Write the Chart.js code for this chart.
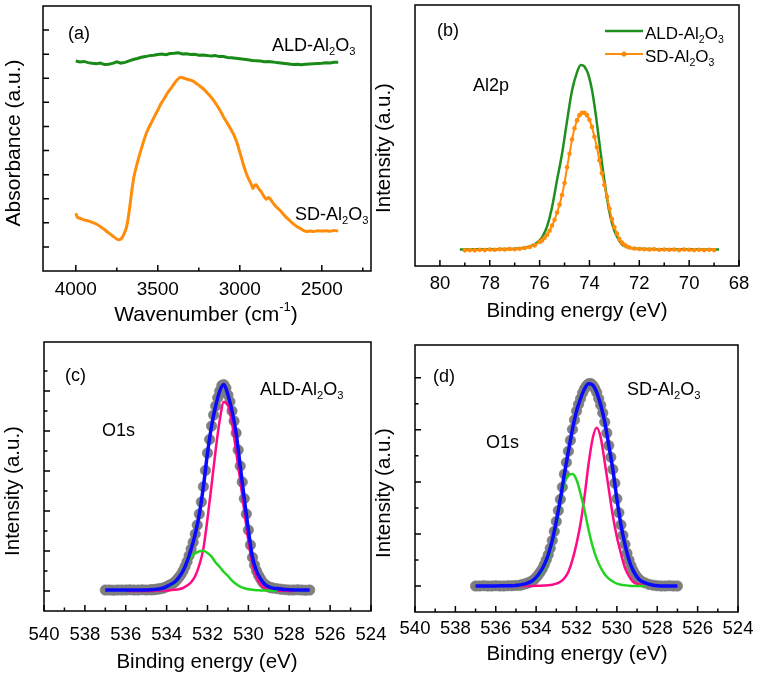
<!DOCTYPE html>
<html>
<head>
<meta charset="utf-8">
<script src="https://cdn.jsdelivr.net/npm/chart.js@4.4.1/dist/chart.umd.min.js"></script>
<style>
  html, body { margin: 0; padding: 0; background: #fff; }
  #fig { position: relative; width: 758px; height: 673px; overflow: hidden; }
  #fig canvas { position: absolute; }
</style>
</head>
<body>
<div id="fig">
  <canvas id="panelA" width="379" height="335" style="left:0;top:0"></canvas>
  <canvas id="panelB" width="388" height="335" style="left:370px;top:0"></canvas>
  <canvas id="panelC" width="390" height="338" style="left:0;top:335px"></canvas>
  <canvas id="panelD" width="388" height="338" style="left:370px;top:335px"></canvas>
</div>
<script>
// (a) FTIR absorbance
const ftirWaveAld = [4000, 3975, 3950, 3925, 3900, 3875, 3850, 3825, 3800, 3775,
  3750, 3725, 3700, 3675, 3650, 3625, 3600, 3575, 3550, 3525,
  3500, 3475, 3450, 3425, 3400, 3375, 3350, 3325, 3300, 3275,
  3250, 3225, 3200, 3175, 3150, 3125, 3100, 3075, 3050, 3025,
  3000, 2975, 2950, 2925, 2900, 2875, 2850, 2825, 2800, 2775,
  2750, 2725, 2700, 2675, 2650, 2625, 2600, 2575, 2550, 2525,
  2500, 2475, 2450, 2425, 2400];
const ftirAld = [8.72, 8.68, 8.70, 8.65, 8.62, 8.60, 8.63, 8.57, 8.58, 8.62,
  8.68, 8.63, 8.66, 8.72, 8.78, 8.82, 8.87, 8.90, 8.94, 8.96,
  8.99, 9.01, 8.98, 9.03, 9.04, 9.06, 9.01, 9.02, 8.99, 9.00,
  8.96, 8.97, 8.95, 8.92, 8.94, 8.90, 8.90, 8.86, 8.85, 8.83,
  8.81, 8.79, 8.77, 8.74, 8.73, 8.72, 8.69, 8.70, 8.68, 8.65,
  8.63, 8.61, 8.59, 8.57, 8.58, 8.56, 8.58, 8.59, 8.60, 8.61,
  8.62, 8.64, 8.63, 8.66, 8.66];
const ftirWaveSd = [4000, 3990, 3975, 3950, 3925, 3900, 3875, 3850, 3825, 3800,
  3775, 3750, 3735, 3720, 3705, 3690, 3675, 3660, 3645, 3630,
  3615, 3600, 3585, 3565, 3540, 3520, 3500, 3480, 3460, 3440,
  3420, 3400, 3380, 3360, 3340, 3320, 3300, 3280, 3260, 3240,
  3220, 3200, 3180, 3160, 3140, 3120, 3100, 3080, 3060, 3040,
  3020, 3005, 2990, 2975, 2960, 2945, 2930, 2920, 2910, 2900,
  2885, 2870, 2855, 2840, 2825, 2815, 2800, 2780, 2755, 2730,
  2700, 2675, 2650, 2625, 2610, 2590, 2570, 2550, 2525, 2500,
  2475, 2450, 2425, 2400];
const ftirSd = [2.40, 2.22, 2.19, 2.12, 2.08, 2.02, 1.95, 1.84, 1.72, 1.58,
  1.45, 1.33, 1.30, 1.36, 1.55, 1.84, 2.45, 3.25, 3.93, 4.35,
  4.74, 5.08, 5.42, 5.80, 6.15, 6.42, 6.68, 6.95, 7.17, 7.40,
  7.58, 7.78, 7.95, 8.04, 8.00, 7.96, 7.92, 7.86, 7.76, 7.66,
  7.55, 7.40, 7.25, 7.08, 6.88, 6.66, 6.40, 6.18, 5.95, 5.70,
  5.38, 5.05, 4.70, 4.35, 4.05, 3.80, 3.60, 3.42, 3.55, 3.58,
  3.42, 3.30, 3.12, 2.98, 3.05, 3.00, 2.85, 2.68, 2.52, 2.32,
  2.12, 1.97, 1.84, 1.74, 1.68, 1.64, 1.66, 1.64, 1.67, 1.66,
  1.67, 1.65, 1.68, 1.66];
const ftirXLabels = [4000, 3500, 3000, 2500];
const ftirXMinor = [3750, 3250, 2750, 2250];
const ftirYTicks = [1, 2, 3, 4, 5, 6, 7, 8, 9, 10];

// (b) Al2p
const al2pEAld = [79.2, 78.5, 78, 77.5, 77, 76.6, 76.4, 76.2, 76.0, 75.9,
  75.7, 75.5, 75.3, 75.1, 74.9, 74.7, 74.5, 74.35, 74.2, 74.05,
  73.9, 73.75, 73.6, 73.45, 73.3, 73.15, 73.0, 72.85, 72.7, 72.5,
  72.3, 72, 71.5, 71, 70, 69, 68.8];
const al2pAld = [0.063, 0.064, 0.064, 0.065, 0.066, 0.070, 0.075, 0.083, 0.098, 0.110,
  0.152, 0.226, 0.330, 0.430, 0.555, 0.672, 0.742, 0.770, 0.764, 0.735,
  0.675, 0.582, 0.470, 0.360, 0.262, 0.185, 0.135, 0.105, 0.083, 0.073,
  0.068, 0.066, 0.065, 0.064, 0.064, 0.063, 0.063];
const al2pESd = [79.0, 78.8, 78.6, 78.4, 78.2, 78.0, 77.8, 77.6, 77.4, 77.2,
  77.0, 76.8, 76.6, 76.4, 76.2, 76.0, 75.9, 75.8, 75.7, 75.6,
  75.5, 75.4, 75.3, 75.2, 75.1, 75.0, 74.9, 74.8, 74.7, 74.6,
  74.5, 74.4, 74.3, 74.2, 74.1, 74.0, 73.9, 73.8, 73.7, 73.6,
  73.5, 73.4, 73.3, 73.2, 73.1, 73.0, 72.9, 72.8, 72.7, 72.6,
  72.5, 72.4, 72.2, 72.0, 71.8, 71.6, 71.4, 71.2, 71.0, 70.8,
  70.6, 70.4, 70.2, 70.0, 69.8, 69.6, 69.4, 69.2, 69.0];
const al2pSd = [0.060, 0.061, 0.060, 0.062, 0.061, 0.063, 0.062, 0.064, 0.063, 0.065,
  0.064, 0.066, 0.069, 0.073, 0.079, 0.092, 0.098, 0.108, 0.120, 0.135,
  0.155, 0.177, 0.205, 0.235, 0.272, 0.318, 0.378, 0.430, 0.485, 0.528,
  0.558, 0.578, 0.587, 0.587, 0.578, 0.560, 0.533, 0.495, 0.455, 0.405,
  0.355, 0.310, 0.265, 0.220, 0.180, 0.148, 0.124, 0.103, 0.090, 0.081,
  0.075, 0.071, 0.067, 0.065, 0.064, 0.063, 0.064, 0.062, 0.063, 0.062,
  0.063, 0.061, 0.063, 0.062, 0.061, 0.062, 0.061, 0.062, 0.061];
const al2pXLabels = [80, 78, 76, 74, 72, 70, 68];
const al2pXMinor = [79, 77, 75, 73, 71, 69];

// (c), (d) O1s: measured points and fitted curves
const o1sE = [537.0, 536.8, 536.6, 536.4, 536.2, 536.0, 535.8, 535.6, 535.4, 535.2,
  535.0, 534.8, 534.7, 534.6, 534.5, 534.4, 534.3, 534.2, 534.1, 534.0,
  533.9, 533.8, 533.7, 533.6, 533.5, 533.4, 533.3, 533.2, 533.1, 533.0,
  532.9, 532.8, 532.7, 532.6, 532.5, 532.4, 532.3, 532.2, 532.1, 532.0,
  531.9, 531.8, 531.7, 531.6, 531.5, 531.4, 531.3, 531.2, 531.1, 531.0,
  530.9, 530.8, 530.7, 530.6, 530.5, 530.4, 530.3, 530.2, 530.1, 530.0,
  529.9, 529.8, 529.7, 529.6, 529.5, 529.4, 529.3, 529.2, 529.1, 529.0,
  528.9, 528.8, 528.6, 528.4, 528.2, 528.0, 527.8, 527.6, 527.4, 527.2,
  527.0];
const o1sAldData = [1.05, 1.05, 1.04, 1.05, 1.05, 1.05, 1.06, 1.05, 1.05, 1.06,
  1.05, 1.06, 1.06, 1.07, 1.09, 1.10, 1.12, 1.14, 1.17, 1.22,
  1.27, 1.32, 1.37, 1.45, 1.56, 1.68, 1.82, 2.00, 2.22, 2.47,
  2.77, 3.10, 3.44, 3.85, 4.30, 4.85, 5.45, 6.22, 7.03, 7.90,
  8.58, 9.25, 9.80, 10.25, 10.66, 11.00, 11.28, 11.32, 11.15, 10.80,
  10.47, 10.00, 9.50, 8.90, 8.05, 7.25, 6.45, 5.62, 4.85, 4.05,
  3.30, 2.68, 2.30, 2.00, 1.78, 1.60, 1.44, 1.33, 1.26, 1.20,
  1.17, 1.15, 1.12, 1.09, 1.07, 1.05, 1.05, 1.06, 1.05, 1.04,
  1.05];
const o1sSdData = [1.00, 1.00, 1.01, 1.00, 1.00, 1.01, 1.00, 1.00, 1.01, 1.01,
  1.02, 1.03, 1.05, 1.07, 1.09, 1.12, 1.15, 1.19, 1.25, 1.33,
  1.42, 1.53, 1.65, 1.81, 2.00, 2.20, 2.45, 2.75, 3.10, 3.48,
  3.90, 4.33, 4.80, 5.30, 5.75, 6.18, 6.60, 7.02, 7.38, 7.72,
  7.98, 8.20, 8.42, 8.58, 8.70, 8.77, 8.78, 8.72, 8.60, 8.44,
  8.20, 7.95, 7.65, 7.30, 6.88, 6.40, 5.95, 5.48, 4.95, 4.35,
  3.82, 3.35, 2.95, 2.60, 2.26, 2.00, 1.78, 1.60, 1.45, 1.34,
  1.25, 1.19, 1.12, 1.06, 1.03, 1.01, 1.00, 1.00, 1.01, 1.00,
  1.00];
const fitE = [537, 536.5, 536, 535.5, 535, 534.6, 534.2, 533.9, 533.6, 533.4,
  533.2, 533.0, 532.8, 532.6, 532.4, 532.2, 532.0, 531.8, 531.6, 531.4,
  531.2, 531.0, 530.8, 530.6, 530.4, 530.2, 530.0, 529.8, 529.6, 529.4,
  529.2, 528.9, 528.6, 528.2, 527.8, 527.4, 527];
const aldFitSum = [1.05, 1.05, 1.05, 1.05, 1.05, 1.07, 1.14, 1.27, 1.45, 1.68,
  2.00, 2.47, 3.10, 3.85, 4.85, 6.22, 7.90, 9.25, 10.25, 11.00,
  11.32, 10.80, 10.00, 8.90, 7.25, 5.62, 4.05, 2.68, 2.00, 1.60,
  1.33, 1.17, 1.12, 1.07, 1.05, 1.05, 1.05];
const aldFitLow = [null, null, 1.00, 1.00, 1.00, 1.01, 1.02, 1.03, 1.06, 1.09,
  1.15, 1.27, 1.44, 1.75, 2.30, 3.13, 4.62, 6.30, 8.05, 9.55,
  10.45, 10.30, 9.40, 8.00, 6.55, 5.00, 3.50, 2.35, 1.68, 1.32,
  1.14, 1.06, 1.03, 1.01, 1.00, null, null];
const aldFitHigh = [null, null, null, null, null, 1.05, 1.10, 1.22, 1.40, 1.62,
  1.98, 2.42, 2.72, 2.88, 2.99, 3.01, 2.90, 2.72, 2.42, 2.20,
  1.95, 1.75, 1.52, 1.35, 1.22, 1.14, 1.09, 1.06, 1.04, 1.03,
  1.02, 1.02, 1.01, null, null, null, null];
const sdFitSum = [1.00, 1.00, 1.00, 1.01, 1.02, 1.07, 1.19, 1.42, 1.81, 2.20,
  2.75, 3.48, 4.33, 5.30, 6.18, 7.02, 7.72, 8.20, 8.58, 8.77,
  8.72, 8.44, 7.95, 7.30, 6.40, 5.48, 4.35, 3.35, 2.60, 2.00,
  1.60, 1.25, 1.12, 1.03, 1.00, 1.00, 1.00];
const sdFitLow = [null, null, null, null, 1.00, 1.00, 1.00, 1.01, 1.02, 1.03,
  1.05, 1.09, 1.16, 1.30, 1.55, 2.00, 2.62, 3.40, 4.45, 5.70,
  6.67, 7.08, 6.70, 5.75, 4.72, 3.70, 2.88, 2.25, 1.70, 1.38,
  1.16, 1.06, 1.02, null, null, null, null];
const sdFitHigh = [null, null, null, null, 1.00, 1.05, 1.17, 1.35, 1.70, 2.08,
  2.62, 3.30, 4.15, 4.92, 5.25, 5.30, 5.08, 4.55, 3.90, 3.15,
  2.52, 2.05, 1.70, 1.45, 1.28, 1.17, 1.09, 1.05, 1.03, 1.01,
  1.00, 1.00, 1.00, null, null, null, null];
const o1sXLabels = [540, 538, 536, 534, 532, 530, 528, 526, 524];
const o1sXMinor = [539, 537, 535, 533, 531, 529, 527, 525];
const aldYMajor = [1, 3, 5, 7, 9, 11];
const aldYMinor = [2, 4, 6, 8, 10, 12];
const sdYMajor = [1, 3, 5, 7, 9];
const sdYMinor = [2, 4, 6, 8];

const FONT = '"Liberation Sans", Arial, Helvetica, sans-serif';
Chart.defaults.font.family = FONT;
Chart.defaults.color = '#000';

const GREEN = '#178a17';
const ORANGE = '#ff8c0a';

function pts(xs, ys) {
  return xs.map((x, i) => ({ x: x, y: ys[i] })).filter(p => p.y !== null);
}

function richWidth(ctx, parts, size) {
  let w = 0;
  parts.forEach(p => {
    const small = Array.isArray(p);
    ctx.font = (small ? size * 0.62 : size) + 'px ' + FONT;
    w += ctx.measureText(small ? p[0] : p).width;
  });
  return w;
}

function drawRich(ctx, x, y, parts, size) {
  let cx = x;
  parts.forEach(p => {
    const small = Array.isArray(p);
    const txt = small ? p[0] : p;
    const fs = small ? size * 0.62 : size;
    let dy = 0;
    if (small && p[1] === 'sub') dy = size * 0.22;
    if (small && p[1] === 'sup') dy = -size * 0.38;
    ctx.font = fs + 'px ' + FONT;
    ctx.fillText(txt, cx, y + dy);
    cx += ctx.measureText(txt).width;
  });
}

// frame, inward ticks, titles and labels
const decorPlugin = {
  id: 'decor',
  afterDraw(chart, args, o) {
    const { ctx, chartArea: a } = chart;
    const xs = chart.scales.x, ys = chart.scales.y;
    const ox = o.off[0], oy = o.off[1];
    ctx.save();
    ctx.strokeStyle = '#000';
    ctx.lineWidth = 1.5;
    ctx.strokeRect(a.left, a.top, a.right - a.left, a.bottom - a.top);

    ctx.beginPath();
    (o.xMajor || []).forEach(v => {
      const p = xs.getPixelForValue(v);
      ctx.moveTo(p, a.bottom); ctx.lineTo(p, a.bottom - 6);
    });
    (o.xMinor || []).forEach(v => {
      const p = xs.getPixelForValue(v);
      ctx.moveTo(p, a.bottom); ctx.lineTo(p, a.bottom - 3.5);
    });
    (o.yMajor || []).forEach(v => {
      const p = ys.getPixelForValue(v);
      ctx.moveTo(a.left, p); ctx.lineTo(a.left + 6, p);
    });
    (o.yMinor || []).forEach(v => {
      const p = ys.getPixelForValue(v);
      ctx.moveTo(a.left, p); ctx.lineTo(a.left + 3.5, p);
    });
    ctx.stroke();

    ctx.fillStyle = '#000';
    ctx.textAlign = 'left';
    ctx.textBaseline = 'alphabetic';
    (o.texts || []).forEach(t => drawRich(ctx, t.x - ox, t.y - oy, t.parts, t.size || 18));

    (o.legend || []).forEach(l => {
      ctx.strokeStyle = l.color;
      ctx.lineWidth = l.width;
      ctx.beginPath();
      ctx.moveTo(l.x1 - ox, l.y - oy); ctx.lineTo(l.x2 - ox, l.y - oy);
      ctx.stroke();
      if (l.dot) {
        ctx.fillStyle = l.color;
        ctx.beginPath();
        ctx.arc((l.x1 + l.x2) / 2 - ox, l.y - oy, 2.6, 0, Math.PI * 2);
        ctx.fill();
      }
    });

    ctx.fillStyle = '#000';
    ctx.textBaseline = 'middle';
    if (o.xTitle) {
      const t = o.xTitle;
      const w = richWidth(ctx, t.parts, t.size);
      drawRich(ctx, t.x - ox - w / 2, t.y - oy, t.parts, t.size);
    }
    if (o.yTitle) {
      const t = o.yTitle;
      ctx.translate(t.x - ox, t.y - oy);
      ctx.rotate(-Math.PI / 2);
      ctx.textAlign = 'center';
      ctx.font = t.size + 'px ' + FONT;
      ctx.fillText(t.text, 0, 0);
    }
    ctx.restore();
  }
};

function makePanel(id, c) {
  const canvas = document.getElementById(id);
  const w = canvas.width, h = canvas.height;
  const ar = c.area;
  return new Chart(canvas, {
    type: 'line',
    data: { datasets: c.datasets },
    options: {
      responsive: false,
      animation: false,
      devicePixelRatio: 1,
      layout: { padding: { left: 0, top: ar.top, right: w - ar.right, bottom: 0 } },
      plugins: { legend: { display: false }, tooltip: { enabled: false }, decor: c.decor },
      scales: {
        x: {
          type: 'linear', min: c.xMin, max: c.xMax, reverse: true,
          grid: { display: false, drawTicks: false },
          border: { display: false },
          ticks: {
            autoSkip: false, maxRotation: 0, minRotation: 0,
            padding: c.tickPad, font: { size: c.tickSize },
            callback: v => String(v)
          },
          afterBuildTicks: s => { s.ticks = c.decor.xMajor.map(v => ({ value: v })); },
          afterFit: s => { s.height = h - ar.bottom; s.paddingLeft = 0; s.paddingRight = 0; }
        },
        y: {
          type: 'linear', min: c.yMin, max: c.yMax,
          grid: { display: false, drawTicks: false },
          border: { display: false },
          ticks: { display: false },
          afterFit: s => { s.width = ar.left; s.paddingTop = 0; s.paddingBottom = 0; }
        }
      }
    },
    plugins: [decorPlugin]
  });
}

const alO3 = ['-Al', ['2', 'sub'], 'O', ['3', 'sub']];

makePanel('panelA', {
  area: { left: 43, top: 6, right: 371, bottom: 271 },
  xMin: 2200, xMax: 4200, yMin: 0, yMax: 11, tickPad: 7, tickSize: 19,
  datasets: [
    { data: pts(ftirWaveAld, ftirAld), borderColor: GREEN, borderWidth: 3, pointRadius: 0, tension: 0 },
    { data: pts(ftirWaveSd, ftirSd), borderColor: ORANGE, borderWidth: 3, pointRadius: 0, tension: 0.2 }
  ],
  decor: {
    off: [0, 0],
    xMajor: ftirXLabels, xMinor: ftirXMinor, yMajor: ftirYTicks,
    texts: [
      { x: 68, y: 39, parts: ['(a)'] },
      { x: 272, y: 51, parts: ['ALD'].concat(alO3) },
      { x: 295, y: 220, parts: ['SD'].concat(alO3) }
    ],
    xTitle: { x: 206, y: 315, size: 21, parts: ['Wavenumber (cm', ['-1', 'sup'], ')'] },
    yTitle: { x: 14, y: 143, size: 21, text: 'Absorbance (a.u.)' }
  }
});

makePanel('panelB', {
  area: { left: 45, top: 5, right: 369, bottom: 266 },
  xMin: 68, xMax: 81, yMin: 0, yMax: 1, tickPad: 6.5, tickSize: 18.5,
  datasets: [
    { data: pts(al2pESd, al2pSd), borderColor: ORANGE, borderWidth: 2, pointRadius: 2.3,
      pointBackgroundColor: ORANGE, pointBorderWidth: 0, tension: 0, order: 1 },
    { data: pts(al2pEAld, al2pAld), borderColor: '#1f8f1f', borderWidth: 2.5, pointRadius: 0,
      cubicInterpolationMode: 'monotone', order: 2 }
  ],
  decor: {
    off: [370, 0],
    xMajor: al2pXLabels, xMinor: al2pXMinor,
    texts: [
      { x: 437, y: 36, parts: ['(b)'] },
      { x: 645, y: 39, parts: ['ALD'].concat(alO3), size: 17 },
      { x: 645, y: 62, parts: ['SD'].concat(alO3), size: 17 },
      { x: 473, y: 91, parts: ['Al2p'] }
    ],
    legend: [
      { x1: 605, x2: 643, y: 31, color: '#1f8f1f', width: 2.5 },
      { x1: 605, x2: 643, y: 54, color: ORANGE, width: 2, dot: true }
    ],
    xTitle: { x: 577, y: 311, size: 20.5, parts: ['Binding energy (eV)'] },
    yTitle: { x: 384, y: 148, size: 20.5, text: 'Intensity (a.u.)' }
  }
});

function o1sSets(data, sum, low, high) {
  return [
    { data: pts(fitE, sum), borderColor: '#0a0aff', borderWidth: 3.5, pointRadius: 0,
      cubicInterpolationMode: 'monotone', order: 1 },
    { data: pts(fitE, high), borderColor: '#22d322', borderWidth: 2.5, pointRadius: 0,
      cubicInterpolationMode: 'monotone', order: 2 },
    { data: pts(fitE, low), borderColor: '#ff0a87', borderWidth: 2.5, pointRadius: 0,
      cubicInterpolationMode: 'monotone', order: 3 },
    { data: pts(o1sE, data), showLine: false, pointRadius: 5.2,
      pointBackgroundColor: '#808080', pointBorderColor: '#777', pointBorderWidth: 0.6, order: 4 }
  ];
}

makePanel('panelC', {
  area: { left: 44, top: 7, right: 371, bottom: 276 },
  xMin: 524, xMax: 540, yMin: 0, yMax: 13.45, tickPad: 13, tickSize: 18.5,
  datasets: o1sSets(o1sAldData, aldFitSum, aldFitLow, aldFitHigh),
  decor: {
    off: [0, 335],
    xMajor: o1sXLabels, xMinor: o1sXMinor, yMajor: aldYMajor, yMinor: aldYMinor,
    texts: [
      { x: 65, y: 381, parts: ['(c)'] },
      { x: 260, y: 395, parts: ['ALD'].concat(alO3) },
      { x: 102, y: 436, parts: ['O1s'] }
    ],
    xTitle: { x: 207, y: 662, size: 20.5, parts: ['Binding energy (eV)'] },
    yTitle: { x: 13.5, y: 491, size: 20.5, text: 'Intensity (a.u.)' }
  }
});

makePanel('panelD', {
  area: { left: 45, top: 10, right: 368, bottom: 277 },
  xMin: 524, xMax: 540, yMin: 0, yMax: 10.26, tickPad: 5.5, tickSize: 18.5,
  datasets: o1sSets(o1sSdData, sdFitSum, sdFitLow, sdFitHigh),
  decor: {
    off: [370, 335],
    xMajor: o1sXLabels, xMinor: o1sXMinor, yMajor: sdYMajor, yMinor: sdYMinor,
    texts: [
      { x: 433, y: 382, parts: ['(d)'] },
      { x: 627, y: 395, parts: ['SD'].concat(alO3) },
      { x: 486, y: 448, parts: ['O1s'] }
    ],
    xTitle: { x: 577, y: 654, size: 20.5, parts: ['Binding energy (eV)'] },
    yTitle: { x: 384, y: 493, size: 20.5, text: 'Intensity (a.u.)' }
  }
});
</script>
</body>
</html>
